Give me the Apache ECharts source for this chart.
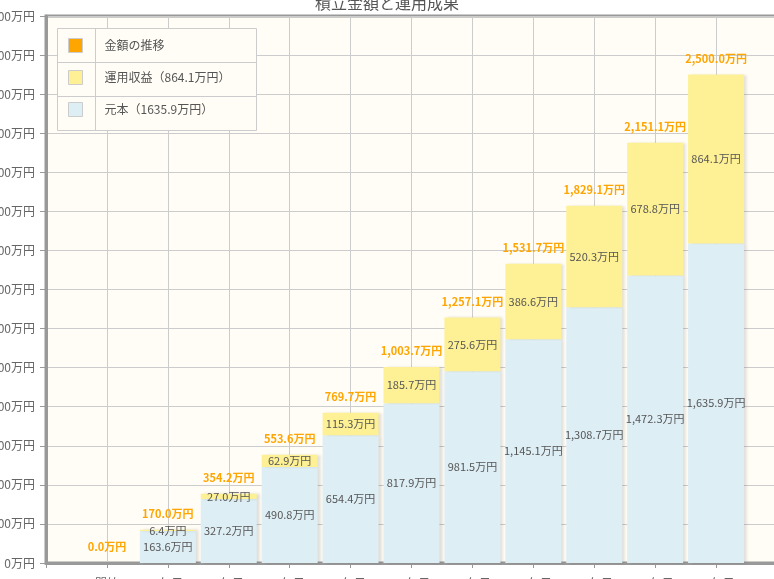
<!DOCTYPE html>
<html>
<head>
<meta charset="utf-8">
<script src="https://cdn.jsdelivr.net/npm/echarts@6/dist/echarts.min.js"></script>
<style>
  html, body { margin: 0; padding: 0; background: #fff; }
  #main { width: 774px; height: 579px; }
</style>
</head>
<body>
<div id="main"></div>
<script>
// 積立金額と運用成果
var categories = ['開始', '2年目', '4年目', '6年目', '8年目', '10年目', '12年目', '14年目', '16年目', '18年目', '20年目'];
var principal = [0, 163.6, 327.2, 490.8, 654.4, 817.9, 981.5, 1145.1, 1308.7, 1472.3, 1635.9];
var profit = [0, 6.4, 27.0, 62.9, 115.3, 185.7, 275.6, 386.6, 520.3, 678.8, 864.1];
var totals = [0.0, 170.0, 354.2, 553.6, 769.7, 1003.7, 1257.1, 1531.7, 1829.1, 2151.1, 2500.0];

var nameTotal = '金額の推移';
var nameProfit = '運用収益（864.1万円）';
var namePrincipal = '元本（1635.9万円）';

function fmt(v) {
  return v.toLocaleString('en-US', { minimumFractionDigits: 1, maximumFractionDigits: 1 }) + '万円';
}
// 両端に空のカテゴリを足して、棒を目盛りの上に置く
function pad(arr) { return [null].concat(arr, [null]); }

var font = '"Noto Sans CJK JP", sans-serif';
var chart = echarts.init(document.getElementById('main'));

var barShadow = {
  shadowColor: 'rgba(0,0,0,0.13)',
  shadowBlur: 3,
  shadowOffsetX: 3,
  shadowOffsetY: 0
};

chart.setOption({
  animation: false,
  textStyle: { fontFamily: font },
  title: {
    text: '積立金額と運用成果',
    left: 'center',
    top: -10,
    textStyle: { fontSize: 16, fontWeight: 'normal', color: '#555', fontFamily: font }
  },
  grid: {
    left: 46, right: -3, top: 16, bottom: 16,
    outerBoundsMode: 'none',
    containLabel: false,
    show: true,
    backgroundColor: '#fffdf6',
    borderColor: '#999',
    borderWidth: 3
  },
  graphic: [
    { type: 'rect', shape: { x: 57.5, y: 28.5, width: 199, height: 102 },
      style: { fill: '#fffdf6', stroke: '#ccc', lineWidth: 1 }, z: 90 },
    { type: 'line', shape: { x1: 57.5, y1: 62.5, x2: 256.5, y2: 62.5 }, style: { stroke: '#ccc' }, z: 91 },
    { type: 'line', shape: { x1: 57.5, y1: 96.5, x2: 256.5, y2: 96.5 }, style: { stroke: '#ccc' }, z: 91 },
    { type: 'line', shape: { x1: 95.5, y1: 28.5, x2: 95.5, y2: 130.5 }, style: { stroke: '#ccc' }, z: 91 }
  ],
  legend: {
    orient: 'vertical',
    left: 63,
    top: 33,
    z: 100,
    itemWidth: 14,
    itemHeight: 14,
    itemGap: 17,
    icon: 'rect',
    textStyle: { fontSize: 12, color: '#555', padding: [0, 0, 0, 17], fontFamily: font },
    data: [
      { name: nameTotal, itemStyle: { color: '#ffa500', borderColor: '#ccc', borderWidth: 1 } },
      { name: nameProfit, itemStyle: { color: '#fef094', borderColor: '#ccc', borderWidth: 1 } },
      { name: namePrincipal, itemStyle: { color: '#deeef5', borderColor: '#ccc', borderWidth: 1 } }
    ]
  },
  xAxis: {
    type: 'category',
    boundaryGap: false,
    data: pad(categories).map(function (c) { return c || ''; }),
    axisLine: { lineStyle: { color: '#999', width: 3 } },
    axisTick: { show: true, length: 5, lineStyle: { color: '#999' } },
    axisLabel: { color: '#666', fontSize: 12, margin: 14, interval: 0 },
    splitLine: { show: true, lineStyle: { color: '#ccc' } }
  },
  yAxis: {
    type: 'value',
    min: 0,
    max: 2800,
    interval: 200,
    axisLine: { show: true, lineStyle: { color: '#999', width: 3 } },
    axisTick: { show: true, length: 6, lineStyle: { color: '#999' } },
    axisLabel: {
      color: '#666', fontSize: 12, margin: 11,
      formatter: function (v) { return v + '万円'; }
    },
    splitLine: { show: true, lineStyle: { color: '#ccc' } }
  },
  series: [
    {
      name: namePrincipal,
      type: 'bar',
      stack: 'sum',
      barWidth: 56,
      data: pad(principal),
      itemStyle: Object.assign({ color: '#deeef5' }, barShadow),
      label: {
        show: true,
        position: 'inside',
        color: '#555',
        fontSize: 11,
        formatter: function (p) { return p.value ? fmt(p.value) : ''; }
      }
    },
    {
      name: nameProfit,
      type: 'bar',
      stack: 'sum',
      barWidth: 56,
      data: pad(profit),
      itemStyle: Object.assign({ color: '#fef094' }, barShadow),
      label: {
        show: true,
        position: 'inside',
        color: '#555',
        fontSize: 11,
        formatter: function (p) { return p.value ? fmt(p.value) : ''; }
      }
    },
    {
      name: nameTotal,
      type: 'line',
      data: pad(totals),
      symbol: 'circle',
      symbolSize: 1,
      itemStyle: { color: 'rgba(0,0,0,0)' },
      lineStyle: { width: 0, opacity: 0 },
      z: 5,
      label: {
        show: true,
        position: 'top',
        distance: 10,
        color: '#ffa500',
        fontSize: 11,
        fontWeight: 'bold',
        formatter: function (p) { return p.value == null ? '' : fmt(p.value); }
      }
    }
  ]
});
</script>
</body>
</html>
